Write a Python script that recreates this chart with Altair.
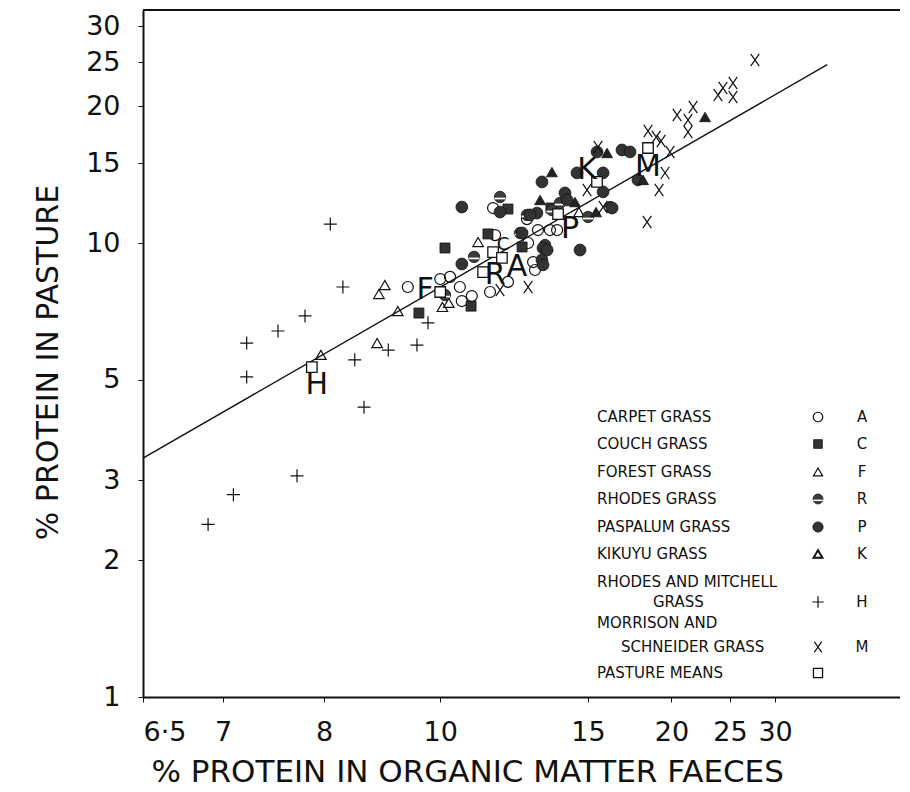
import altair as alt
import pandas as pd

# ---------------- data ----------------
# x: % protein in organic matter faeces ; y: % protein in pasture
X_OFFSET = 5.5  # faeces axis is logarithmic in (x - 5.5): 6.5 sits at the origin

carpet_x = [9.32, 10.0, 10.23, 10.47, 10.52, 10.78, 11.29, 11.84, 11.44, 11.38, 12.52, 12.70, 12.77, 12.88, 13.34, 13.63, 12.48]
carpet_y = [8.00, 8.33, 8.42, 8.00, 7.45, 7.64, 7.80, 8.21, 10.41, 11.94, 10.0, 9.08, 8.72, 10.68, 10.68, 10.68, 11.29]
couch_x = [10.11, 11.23, 11.84, 12.31, 10.76, 9.54, 13.38]
couch_y = [9.75, 10.47, 11.88, 9.80, 7.26, 7.01, 11.94]
forest_x = [8.90, 8.80, 9.13, 7.96, 8.77, 10.05, 10.20, 10.95, 14.58]
forest_y = [8.08, 7.72, 7.08, 5.67, 6.02, 7.23, 7.38, 10.05, 11.70]
rhodes_x = [10.84, 10.11, 11.59, 12.48, 12.24, 13.15, 13.42, 15.01, 16.13, 13.75]
rhodes_y = [9.32, 7.68, 12.63, 11.53, 10.52, 9.90, 11.82, 11.41, 12.00, 12.25]
paspalum_x = [10.52, 10.52, 11.59, 12.84, 12.59, 12.31, 13.03, 13.96, 14.05, 14.49, 15.76, 15.76,
              15.45, 16.79, 17.26, 17.74, 16.24, 14.63, 13.07, 13.03, 13.07, 13.23]
paspalum_y = [12.00, 8.99, 11.70, 11.64, 11.53, 10.52, 13.63, 12.89, 12.44, 14.27, 14.27, 12.96,
              15.87, 16.03, 15.87, 13.77, 11.94, 9.65, 9.75, 9.18, 8.95, 9.65]
kikuyu_x = [13.42, 12.96, 14.40, 15.97, 18.06, 15.40, 22.69]
kikuyu_y = [14.33, 12.44, 12.31, 15.79, 13.77, 11.70, 18.95]
rm_x = [8.08, 8.25, 7.77, 7.48, 7.19, 7.19, 8.42, 8.96, 9.50, 9.73, 8.56, 7.68, 7.08, 6.89]
rm_y = [11.01, 8.00, 6.91, 6.40, 6.02, 5.07, 5.53, 5.81, 5.96, 6.67, 4.35, 3.07, 2.79, 2.40]
ms_x = [27.63, 23.85, 24.32, 25.30, 25.30, 20.42, 21.68, 21.27, 21.27, 18.38, 18.92, 19.26, 19.90,
        19.54, 19.12, 18.32, 15.5, 14.96, 15.76, 12.52, 11.59]
ms_y = [25.30, 21.18, 21.95, 22.51, 20.97, 19.14, 19.93, 18.66, 17.56, 17.65, 17.12, 16.78, 15.87,
        14.27, 13.09, 11.12, 16.27, 13.09, 12.00, 8.00, 7.88]

mean_letters = ["H", "F", "R", "C", "A", "P", "K", "M"]
mean_x = [7.85, 10.0, 11.09, 11.38, 11.65, 13.67, 15.45, 18.38]
mean_y = [5.33, 7.80, 8.63, 9.55, 9.27, 11.58, 13.63, 16.19]
letter_x = [7.91, 9.67, 11.44, 11.68, 12.14, 14.18, 14.96, 18.38]
letter_y = [4.87, 7.88, 8.50, 9.90, 8.85, 10.74, 14.48, 14.71]

line_x = [6.5, 37.4]
line_y = [3.36, 24.7]

x_tick_labels = [6.5, 7, 8, 10, 15, 20, 25, 30]
y_tick_labels = [1, 2, 3, 5, 10, 15, 20, 25, 30]

legend_names = ["CARPET GRASS", "COUCH GRASS", "FOREST GRASS", "RHODES GRASS", "PASPALUM GRASS",
                "KIKUYU  GRASS", "RHODES AND MITCHELL", "MORRISON AND", "PASTURE MEANS"]
legend_second = ["", "", "", "", "", "", "GRASS", "SCHNEIDER GRASS", ""]
legend_letters = ["A", "C", "F", "R", "P", "K", "H", "M", ""]

# ---------------- layout ----------------
W, H = 757, 687
FONT = "DejaVu Sans"
LFONT = "DejaVu Sans"
INK = "#111111"
DARK = "#333333"

xs = alt.Scale(type="log", domain=[1, 46.1])
ys = alt.Scale(type="log", domain=[1, 32.6])

x_vals = [t - X_OFFSET for t in x_tick_labels]
label_map = " : ".join(
    f"abs(datum.value - {v}) < 0.01 ? '{('6·5' if t == 6.5 else str(int(t)))}'" for v, t in zip(x_vals, x_tick_labels)
) + " : ''"

x_axis = alt.Axis(values=x_vals, labelExpr=label_map, grid=False, tickSize=5, tickColor=INK,
                  domainColor=INK, domainWidth=2, labelFont=FONT, labelFontSize=27, labelColor=INK,
                  labelPadding=17, title="% PROTEIN IN ORGANIC MATTER FAECES", titleFont=FONT,
                  titleFontSize=31, titleFontWeight="normal", titleColor=INK, titleAnchor="start",
                  titleAlign="left", titleX=8, titleY=84, titleBaseline="alphabetic")
y_axis = alt.Axis(values=y_tick_labels, labelExpr="format(datum.value, 'd')", grid=False, tickSize=5,
                  tickColor=INK, domainColor=INK, domainWidth=2, labelFont=FONT, labelFontSize=27,
                  labelColor=INK, labelPadding=18, title="% PROTEIN IN PASTURE", titleFont=FONT,
                  titleFontSize=30, titleFontWeight="normal", titleColor=INK, titleAngle=270,
                  titleX=-95, titleY=352, titleAlign="center", titleBaseline="middle")


def enc():
    return dict(x=alt.X("u:Q", scale=xs, axis=x_axis), y=alt.Y("y:Q", scale=ys, axis=y_axis))


def table(xv, yv, **extra):
    d = {"x": xv, "y": yv}
    d.update(extra)
    return pd.DataFrame(d)


def pts(xv, yv, **mark):
    return alt.Chart(table(xv, yv)).transform_calculate(u=f"datum.x - {X_OFFSET}").mark_point(**mark).encode(**enc())


CROSS = "M-1,0H1M0,-1V1"
XMARK = "M-0.7,-1L0.7,1M0.7,-1L-0.7,1"
BAND = "M-0.95,0.12H0.95V0.42H-0.95Z"

styles = {
    "A": [dict(shape="circle", filled=False, stroke=INK, strokeWidth=1.2, size=121, opacity=1)],
    "C": [dict(shape="square", filled=True, fill=DARK, stroke=INK, strokeWidth=0.8, size=100, opacity=1)],
    "F": [dict(shape="triangle-up", filled=False, stroke=INK, strokeWidth=1.2, size=110, opacity=1)],
    "R": [dict(shape="circle", filled=True, fill="#3c3c3c", stroke=INK, strokeWidth=0.8, size=130, opacity=1),
          dict(shape=BAND, filled=True, fill="white", strokeWidth=0, size=130, opacity=1)],
    "P": [dict(shape="circle", filled=True, fill=DARK, stroke=INK, strokeWidth=0.8, size=140, opacity=1)],
    "K": [dict(shape="triangle-up", filled=True, fill="#222222", stroke=INK, strokeWidth=0.8, size=120, opacity=1)],
    "H": [dict(shape=CROSS, filled=False, stroke=INK, strokeWidth=1.2, size=169, opacity=1)],
    "M": [dict(shape=XMARK, filled=False, stroke=INK, strokeWidth=1.2, size=150, opacity=1)],
    "": [dict(shape="square", filled=True, fill="white", stroke=INK, strokeWidth=1.3, size=110, opacity=1)],
}

series = [("A", carpet_x, carpet_y), ("C", couch_x, couch_y), ("F", forest_x, forest_y),
          ("R", rhodes_x, rhodes_y), ("P", paspalum_x, paspalum_y), ("K", kikuyu_x, kikuyu_y),
          ("H", rm_x, rm_y), ("M", ms_x, ms_y)]

layers = []

# regression line
layers.append(alt.Chart(table(line_x, line_y)).transform_calculate(u=f"datum.x - {X_OFFSET}")
              .mark_line(color=INK, strokeWidth=1.4).encode(**enc()))

for key, xv, yv in series:
    for st in styles[key]:
        layers.append(pts(xv, yv, **st))

# pasture means
for st in styles[""]:
    layers.append(pts(mean_x, mean_y, **st))

# big letters
layers.append(alt.Chart(table(letter_x, letter_y, letter=mean_letters))
              .transform_calculate(u=f"datum.x - {X_OFFSET}")
              .mark_text(font=FONT, color=INK, baseline="middle", align="center")
              .encode(**enc(), text="letter:N",
                      size=alt.condition(alt.datum.letter == "C", alt.value(18), alt.value(30))))

# top frame line
one = pd.DataFrame({"k": [0]})
layers.append(alt.Chart(one).mark_rule(color=INK, strokeWidth=2)
              .encode(x=alt.value(0), x2=alt.value(W), y=alt.value(0)))

# custom legend (name, symbol, letter)
row_y = [407, 434, 462, 489, 517, 544, 572, 613, 663]
sym_y = [407, 434, 462, 489, 517, 544, 592, 637, 663]
TX, SX, LX = 454, 675, 719
for i, name in enumerate(legend_names):
    layers.append(alt.Chart(pd.DataFrame({"t": [name]})).mark_text(
        font=LFONT, fontSize=15, color=INK, align="left", baseline="middle")
        .encode(text="t:N", x=alt.value(TX), y=alt.value(row_y[i])))
    if legend_second[i]:
        indent = TX + (56 if i == 6 else 24)
        layers.append(alt.Chart(pd.DataFrame({"t": [legend_second[i]]})).mark_text(
            font=LFONT, fontSize=15, color=INK, align="left", baseline="middle")
            .encode(text="t:N", x=alt.value(indent), y=alt.value(sym_y[i])))
    key = legend_letters[i]
    for st in styles[key]:
        st2 = dict(st)
        st2["size"] = st["size"] * 0.75
        if key == "K":
            st2 = dict(shape="triangle-up", filled=False, stroke=INK, strokeWidth=2, size=80, opacity=1)
        layers.append(alt.Chart(one).mark_point(**st2).encode(x=alt.value(SX), y=alt.value(sym_y[i])))
    if key:
        layers.append(alt.Chart(pd.DataFrame({"t": [key]})).mark_text(
            font=LFONT, fontSize=15, color=INK, align="center", baseline="middle")
            .encode(text="t:N", x=alt.value(LX), y=alt.value(sym_y[i])))

chart = alt.layer(*layers).properties(
    width=W, height=H,
    autosize=alt.AutoSizeParams(type="none"),
    padding={"left": 135, "top": 2, "right": 0, "bottom": 90},
    background="white",
).configure_view(stroke=None)

chart.save("out.html", embed_options={"renderer": "svg", "actions": False})
